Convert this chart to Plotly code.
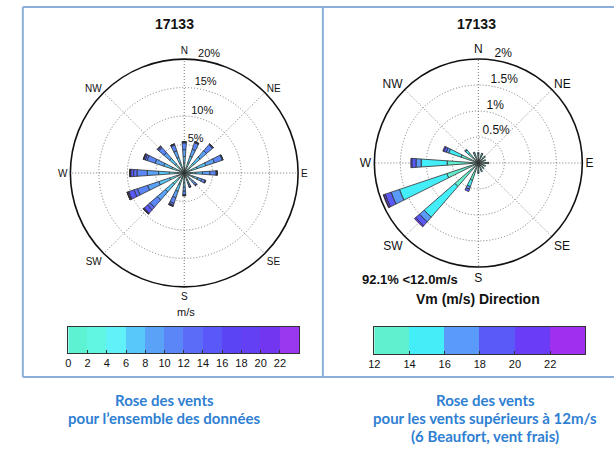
import plotly.graph_objects as go

# ---------------- data ----------------
directions = ["N", "NNE", "NE", "ENE", "E", "ESE", "SE", "SSE",
              "S", "SSW", "SW", "WSW", "W", "WNW", "NW", "NNW"]
theta_deg = [0, 22.5, 45, 67.5, 90, 112.5, 135, 157.5,
             180, 202.5, 225, 247.5, 270, 292.5, 315, 337.5]

# frequency (%) per direction for each speed class (m/s)
s0_2   = [0.3, 0.3, 0.3, 0.3, 0.3, 0.3, 0.3, 0.3, 0.3, 0.3, 0.3, 0.3, 0.3, 0.3, 0.3, 0.3]
s2_4   = [0.6, 0.6, 0.7, 0.8, 0.7, 0.6, 0.5, 0.5, 0.6, 0.7, 0.9, 0.9, 0.9, 0.8, 0.7, 0.6]
s4_6   = [0.9, 1.0, 1.2, 1.3, 1.0, 0.8, 0.6, 0.55, 0.8, 1.1, 1.4, 1.5, 1.4, 1.2, 1.1, 0.9]
s6_8   = [1.1, 1.2, 1.5, 1.6, 1.2, 0.8, 0.6, 0.5, 0.8, 1.3, 1.8, 2.0, 1.9, 1.5, 1.3, 1.1]
s8_10  = [1.2, 1.3, 1.5, 1.6, 1.3, 0.75, 0.5, 0.4, 0.7, 1.2, 1.9, 2.1, 2.0, 1.6, 1.35, 1.2]
s10_12 = [1.2, 1.2, 1.42, 1.45, 1.1, 0.6, 0.35, 0.27, 0.6, 1.02, 1.67, 1.87, 1.8, 1.48, 1.2, 1.08]
s12_14 = [0.15, 0.15, 0.13, 0.12, 0.15, 0.12, 0.12, 0.14, 0.15, 0.35, 0.60, 0.64, 0.60, 0.35, 0.25, 0.17]
s14_16 = [0.04, 0.04, 0.04, 0.03, 0.04, 0.03, 0.03, 0.04, 0.04, 0.13, 0.78, 0.96, 0.50, 0.25, 0.08, 0.04]
s16_18 = [0.01, 0.01, 0.01, 0.0, 0.01, 0.0, 0.0, 0.0, 0.01, 0.05, 0.12, 0.17, 0.10, 0.05, 0.02, 0.01]
s18_20 = [0.0, 0.0, 0.0, 0.0, 0.0, 0.0, 0.0, 0.0, 0.0, 0.05, 0.10, 0.12, 0.08, 0.05, 0.0, 0.0]
s20_22 = [0.0, 0.0, 0.0, 0.0, 0.0, 0.0, 0.0, 0.0, 0.0, 0.0, 0.03, 0.03, 0.02, 0.02, 0.0, 0.0]
s22_24 = [0.0, 0.0, 0.0, 0.0, 0.0, 0.0, 0.0, 0.0, 0.0, 0.0, 0.0, 0.01, 0.0, 0.0, 0.0, 0.0]

all_classes = [s0_2, s2_4, s4_6, s6_8, s8_10, s10_12, s12_14, s14_16, s16_18, s18_20, s20_22, s22_24]
all_colors = ["#5cf2d2", "#60f6e2", "#60f2f8", "#58c8fa", "#5aa2f8", "#5a86f8",
              "#5a6cf8", "#5a58f8", "#5a44f4", "#6440f4", "#7236f0", "#9a38f0"]
all_edges = [0, 2, 4, 6, 8, 10, 12, 14, 16, 18, 20, 22, 24]

strong_classes = [s12_14, s14_16, s16_18, s18_20, s20_22, s22_24]
strong_colors = ["#60f0d0", "#44eef8", "#5a9af8", "#5a5af8", "#6a3cf8", "#a030f0"]
strong_edges = [12, 14, 16, 18, 20, 22, 24]

left_rings = [5, 10, 15, 20]
left_ring_text = ["5%", "10%", "15%", "20%"]
right_rings = [0.5, 1, 1.5, 2]
right_ring_text = ["0.5%", "1%", "1.5%", "2%"]

compass_vals = [0, 45, 90, 135, 180, 225, 270, 315]
compass_text = ["N", "NE", "E", "SE", "S", "SW", "W", "NW"]

title_text = "17133"
calm_text = "92.1% <12.0m/s"
# --------------------------------------

W, H = 614, 451
FONT = "Liberation Sans, Arial, sans-serif"
fig = go.Figure()

for cls, col in zip(all_classes, all_colors):
    fig.add_trace(go.Barpolar(r=cls, theta=theta_deg, width=8, subplot="polar",
                              marker=dict(color=col, line=dict(color="#303030", width=0.8)),
                              showlegend=False, hoverinfo="skip"))
for cls, col in zip(strong_classes, strong_colors):
    fig.add_trace(go.Barpolar(r=cls, theta=theta_deg, width=8, subplot="polar2",
                              marker=dict(color=col, line=dict(color="#303030", width=0.8)),
                              showlegend=False, hoverinfo="skip"))

# ring labels through the polar scale
fig.add_trace(go.Scatterpolar(r=left_rings, theta=[7] * 4, mode="text", text=left_ring_text,
                              textposition="top right", subplot="polar", cliponaxis=False,
                              textfont=dict(size=11, color="#111", family=FONT),
                              showlegend=False, hoverinfo="skip"))
fig.add_trace(go.Scatterpolar(r=right_rings, theta=[9] * 4, mode="text", text=right_ring_text,
                              textposition="top right", subplot="polar2", cliponaxis=False,
                              textfont=dict(size=12, color="#111", family=FONT),
                              showlegend=False, hoverinfo="skip"))

# colour bars
fig.add_trace(go.Bar(x=[(a + b) / 2 for a, b in zip(all_edges[:-1], all_edges[1:])],
                     y=[1] * len(all_colors), width=2, marker=dict(color=all_colors, line=dict(width=0)),
                     xaxis="x", yaxis="y", showlegend=False, hoverinfo="skip"))
fig.add_trace(go.Bar(x=[(a + b) / 2 for a, b in zip(strong_edges[:-1], strong_edges[1:])],
                     y=[1] * len(strong_colors), width=2, marker=dict(color=strong_colors, line=dict(width=0)),
                     xaxis="x2", yaxis="y2", showlegend=False, hoverinfo="skip"))


def px(x0, x1):
    return [x0 / W, x1 / W]


def py(y_top, y_bot):
    return [1 - y_bot / H, 1 - y_top / H]


GRID_DASH = "1px,2px"


def polar_layout(cx, cy, r, rmax, rings, fsize):
    return dict(
        domain=dict(x=px(cx - r, cx + r), y=py(cy - r, cy + r)),
        bgcolor="white",
        barmode="stack",
        angularaxis=dict(rotation=90, direction="clockwise", tickmode="array",
                         tickvals=compass_vals, ticktext=compass_text, ticks="",
                         showline=True, linecolor="#111", linewidth=1.6,
                         showgrid=True, gridcolor="#777", griddash=GRID_DASH, gridwidth=1,
                         tickfont=dict(size=fsize, color="#111", family=FONT)),
        radialaxis=dict(range=[0, rmax], tickmode="array", tickvals=rings,
                        showticklabels=False, ticks="", showline=False,
                        showgrid=True, gridcolor="#777", griddash=GRID_DASH, gridwidth=1),
    )


cb_axis = dict(showline=True, mirror=True, linecolor="#333", linewidth=1, ticks="inside",
               ticklen=3, tickcolor="#333", showgrid=False, zeroline=False,
               tickfont=dict(size=11, color="#111", family=FONT), fixedrange=True)

fig.update_layout(
    width=W, height=H, margin=dict(l=0, r=0, t=0, b=0),
    paper_bgcolor="white", plot_bgcolor="white",
    font=dict(family=FONT, color="#111"),
    polar=polar_layout(180, 173, 115, 20, left_rings, 10),
    polar2=polar_layout(477, 163, 105, 2, right_rings, 12),
    bargap=0,
    xaxis=dict(domain=px(63, 296), range=[0, 24], tickvals=all_edges[:-1], **cb_axis),
    yaxis=dict(domain=py(327, 353), range=[0, 1], showticklabels=False, showline=True, mirror=True,
               linecolor="#333", linewidth=1, ticks="", showgrid=False, zeroline=False),
    xaxis2=dict(domain=px(372, 585), range=[12, 24], tickvals=strong_edges[:-1], anchor="y2", **cb_axis),
    yaxis2=dict(domain=py(327, 354), range=[0, 1], anchor="x2", showticklabels=False, showline=True,
                mirror=True, linecolor="#333", linewidth=1, ticks="", showgrid=False, zeroline=False),
)

ann = []


def add_text(x, y, text, size, bold=False, color="#111", family=FONT):
    t = f"<b>{text}</b>" if bold else text
    ann.append(dict(x=x / W, y=1 - y / H, xref="paper", yref="paper", text=t, showarrow=False,
                    xanchor="center", yanchor="middle", font=dict(size=size, color=color, family=family)))


add_text(170, 24, title_text, 14, bold=True)
add_text(475, 24, title_text, 14, bold=True)
add_text(182, 312, "m/s", 11)
add_text(408, 279, calm_text, 13, bold=True)
add_text(477, 299, "Vm (m/s) Direction", 14, bold=True)

CAP = "#2f80d2"
CFONT = "Lato, Open Sans, sans-serif"
add_text(160, 400, "Rose des vents", 15, bold=True, color=CAP, family=CFONT)
add_text(160, 418, "pour l’ensemble des données", 15, bold=True, color=CAP, family=CFONT)
add_text(484, 400, "Rose des vents", 15, bold=True, color=CAP, family=CFONT)
add_text(484, 418, "pour les vents supérieurs à 12m/s", 15, bold=True, color=CAP, family=CFONT)
add_text(484, 436, "(6 Beaufort, vent frais)", 15, bold=True, color=CAP, family=CFONT)
fig.update_layout(annotations=ann)

FRAME = "#8cafd9"
shapes = []
for (x0, y0, x1, y1) in [(17, 7, 614, 7), (17, 377, 614, 377), (17, 7, 17, 377), (320, 7, 320, 377)]:
    shapes.append(dict(type="line", xref="paper", yref="paper", x0=x0 / W, x1=x1 / W,
                       y0=1 - y0 / H, y1=1 - y1 / H, line=dict(color=FRAME, width=2)))
fig.update_layout(shapes=shapes)

fig.write_html("out.html", config={"displayModeBar": False})

# remove default page margins so the figure sits at the window origin
with open("out.html", "r", encoding="utf-8") as f:
    html = f.read()
html = html.replace("<head>", "<head><style>html,body{margin:0;padding:0;overflow:hidden;}</style>", 1)
with open("out.html", "w", encoding="utf-8") as f:
    f.write(html)
